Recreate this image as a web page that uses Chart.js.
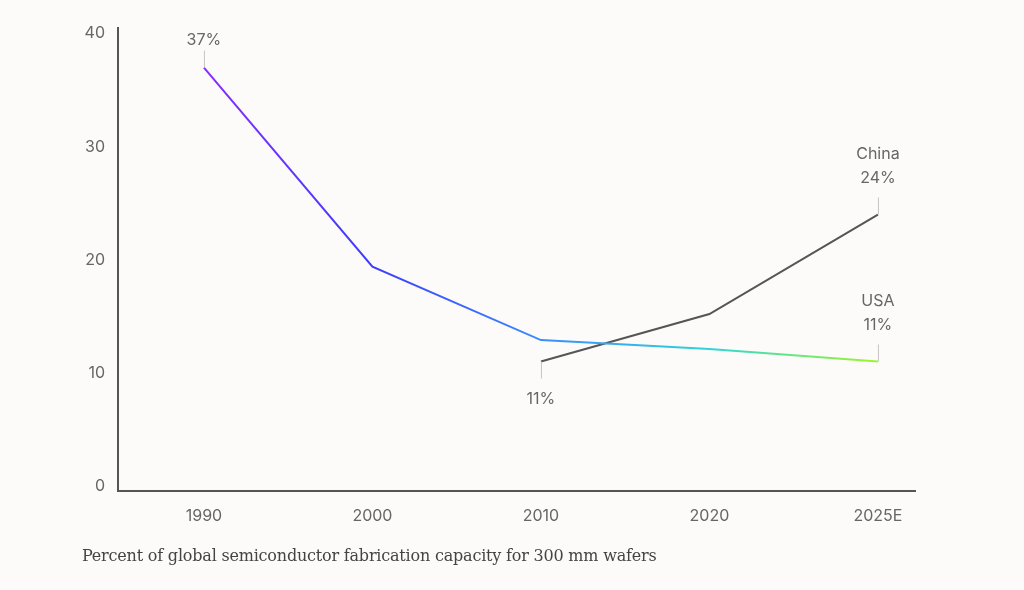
<!DOCTYPE html>
<html>
<head>
<meta charset="utf-8">
<script src="https://cdn.jsdelivr.net/npm/chart.js@4/dist/chart.umd.min.js"></script>
<style>
  html, body { margin: 0; padding: 0; background: #fcfbf9; }
  #wrap { position: relative; width: 1024px; height: 590px; }
  #caption {
    position: absolute; left: 82px; top: 546px;
    font-family: "DejaVu Serif", serif; font-size: 16px; color: #444;
    letter-spacing: -0.2px; white-space: nowrap;
  }
</style>
</head>
<body>
<div id="wrap">
  <canvas id="myChart" width="1024" height="590"></canvas>
  <div id="caption">Percent of global semiconductor fabrication capacity for 300 mm wafers</div>
</div>
<script>
'use strict';

let years = ['1990', '2000', '2010', '2020', '2025E'];
let usaShare = [37, 19.4, 12.9, 12.1, 11];
let chinaShare = [null, null, 11, 15.2, 24];
let yTicks = [0, 10, 20, 30, 40];

// labels with a little leader line: [series, index, lines, above?, gap]
let notes = [
    ['usa', 0, ['37%'], true, 27],
    ['china', 2, ['11%'], false, 38],
    ['china', 4, ['China', '24%'], true, 36],
    ['usa', 4, ['USA', '11%'], true, 36]
];

let sansFont = 'Inter, "Noto Sans", sans-serif';

function toPoints(arr) {
    let pts = [];
    for (let i = 0; i < arr.length; i++) {
        if (arr[i] !== null) pts.push({ x: i, y: arr[i] });
    }
    return pts;
}

function usaGradient(context) {
    let chart = context.chart;
    let area = chart.chartArea;
    if (!area) return '#6a5cff';
    let xs = chart.scales.x;
    let x0 = xs.getPixelForValue(0);
    let x1 = xs.getPixelForValue(4);
    let g = chart.ctx.createLinearGradient(x0, 0, x1, 0);
    g.addColorStop(0, '#8a2cff');
    g.addColorStop(0.25, '#3d3cff');
    g.addColorStop(0.5, '#3a8cff');
    g.addColorStop(0.75, '#2fd6d6');
    g.addColorStop(1, '#a0f52a');
    return g;
}

let notePlugin = {
    id: 'notes',
    afterDatasetsDraw(chart) {
        let ctx = chart.ctx;
        let xs = chart.scales.x;
        let ys = chart.scales.y;
        ctx.save();
        for (let n of notes) {
            let data = n[0] === 'usa' ? usaShare : chinaShare;
            let px = xs.getPixelForValue(n[1]);
            let py = ys.getPixelForValue(data[n[1]]);
            let dir = n[3] ? -1 : 1;
            ctx.strokeStyle = '#c4c4c4';
            ctx.lineWidth = 1;
            ctx.beginPath();
            ctx.moveTo(px + 0.5, py);
            ctx.lineTo(px + 0.5, py + dir * 17);
            ctx.stroke();
            ctx.fillStyle = '#666';
            ctx.font = '16px ' + sansFont;
            ctx.textAlign = 'center';
            ctx.textBaseline = 'middle';
            let lines = n[2];
            for (let k = 0; k < lines.length; k++) {
                let ty;
                if (n[3]) ty = py - n[4] - (lines.length - 1 - k) * 24;
                else ty = py + n[4] + k * 24;
                ctx.fillText(lines[k], px, ty);
            }
        }
        ctx.restore();
    }
};

let ctx = document.getElementById('myChart').getContext('2d');
let myChart = new Chart(ctx, {
    type: 'line',
    data: {
        datasets: [{
            label: 'USA',
            data: toPoints(usaShare),
            borderColor: usaGradient,
            borderWidth: 2,
            pointRadius: 0,
            tension: 0
        }, {
            label: 'China',
            data: toPoints(chinaShare),
            borderColor: '#555555',
            borderWidth: 2,
            pointRadius: 0,
            tension: 0
        }]
    },
    options: {
        responsive: false,
        animation: false,
        layout: { padding: { left: 0, right: 109, top: 28, bottom: 0 } },
        plugins: {
            legend: { display: false },
            tooltip: { enabled: false }
        },
        scales: {
            x: {
                type: 'linear',
                min: -0.51,
                max: 4.22,
                afterBuildTicks: function (scale) {
                    scale.ticks = years.map(function (y, i) { return { value: i }; });
                },
                afterFit: function (scale) { scale.height = 99; },
                grid: { display: false, drawTicks: false },
                border: { display: true, color: '#555', width: 2 },
                ticks: {
                    padding: 16,
                    color: '#666',
                    font: { family: sansFont, size: 16 },
                    callback: function (v) { return years[v]; }
                }
            },
            y: {
                min: -0.45,
                max: 40.5,
                afterBuildTicks: function (scale) {
                    scale.ticks = yTicks.map(function (v) { return { value: v }; });
                },
                afterFit: function (scale) { scale.width = 118; },
                grid: { display: false, drawTicks: false },
                border: { display: true, color: '#555', width: 2 },
                ticks: {
                    padding: 13,
                    color: '#666',
                    font: { family: sansFont, size: 16 },
                    callback: function (v) { return v; }
                }
            }
        }
    },
    plugins: [notePlugin]
});
</script>
</body>
</html>
